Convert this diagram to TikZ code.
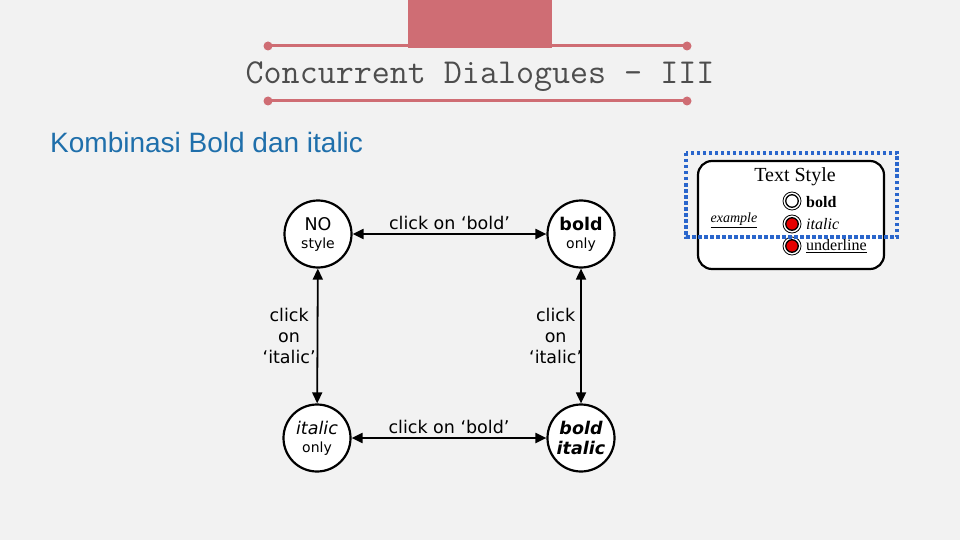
\documentclass[tikz,border=0pt]{standalone}
\usepackage{fontspec}
\usetikzlibrary{arrows.meta}
\newfontfamily\verd{DejaVu Sans}
\newfontfamily\arialf{Liberation Sans}
\newfontfamily\seriff{Liberation Serif}
\definecolor{bg}{HTML}{F2F2F2}
\definecolor{rose}{HTML}{CF6D74}
\definecolor{titlegray}{HTML}{4D4D4D}
\definecolor{headblue}{HTML}{1F6FAB}
\definecolor{dotblue}{HTML}{2A66CC}
\definecolor{radred}{HTML}{E60000}
\newcommand{\smlf}{\fontsize{14}{18}\selectfont}
\begin{document}
\begin{tikzpicture}[x=1pt,y=-1pt,
  state/.style={circle,draw=black,line width=2.2pt,fill=white,minimum size=67pt,inner sep=0pt,align=center,font=\verd\fontsize{17.5}{18}\selectfont},
  lbl/.style={font=\verd\fontsize{17.5}{21}\selectfont,align=center,inner sep=1pt},
  dbl/.style={line width=2pt,{Triangle[length=11pt,width=10pt]}-{Triangle[length=11pt,width=10pt]}},
  vdbl/.style={line width=1.8pt,{Triangle[length=11pt,width=10pt]}-{Triangle[length=11pt,width=10pt]}},
  divider/.style={rose,line width=3pt},
  enddot/.style={circle,fill=rose,minimum size=9pt,inner sep=0pt},
  radio/.style={circle,draw=black,line width=0.8pt,fill=white,minimum size=18pt,inner sep=0pt},
  radin/.style={circle,draw=black,line width=1.3pt,minimum size=12.5pt,inner sep=0pt},
  opt/.style={anchor=west,inner sep=0pt,font=\seriff\fontsize{16}{18}\selectfont},
]
\useasboundingbox (0,0) rectangle (960,540);
\fill[bg] (0,0) rectangle (960,540);

% header
\fill[rose] (408,0) rectangle (552,48);
\node[enddot] (d1) at (268,46) {};
\node[enddot] (d2) at (687,46) {};
\node[enddot] (d3) at (268,101) {};
\node[enddot] (d4) at (687,101) {};
\draw[divider] (d1.center) -- (d2.center);
\draw[divider] (d3.center) -- (d4.center);
\node[anchor=base,text=titlegray,font=\ttfamily\fontsize{35}{35}\selectfont,inner sep=0pt] (title) at (480,84) {Concurrent Dialogues - III};

\node[anchor=base west,text=headblue,font=\arialf\fontsize{28}{30}\selectfont,inner sep=0pt] (sub) at (50,153) {Kombinasi Bold dan italic};

% states
\node[state] (no) at (318,234) {NO\\{\smlf style}};
\node[state] (bo) at (581,234) {{\bfseries bold}\\{\smlf only}};
\node[state] (it) at (317,438) {{\itshape italic}\\{\smlf only}};
\node[state,font=\verd\bfseries\itshape\fontsize{17.5}{20}\selectfont] (bi) at (581,438) {bold\\italic};

\draw[dbl] (no) -- node[lbl,above=2pt] (l1) {click on ‘bold’} (bo);
\draw[dbl] (it) -- node[lbl,above=2pt] (l2) {click on ‘bold’} (bi);
\draw[vdbl] (no) -- node[lbl,left=0pt] (l3) {click\\on\\‘italic’} (it);
\draw[vdbl] (bo) -- node[lbl,left=-3pt] (l4) {click\\on\\‘italic’} (bi);

% Text Style widget
\node[draw=black,line width=2.2pt,rounded corners=14pt,fill=white,minimum width=186pt,minimum height=108pt] (ts) at (791,215) {};
\node[font=\seriff\fontsize{20}{22}\selectfont,inner sep=0pt] (tstitle) at (795,177) {Text Style};
\node[font=\seriff\itshape\fontsize{14}{16}\selectfont,inner sep=0pt] (ex) at (734,220) {\underline{example}};
\node[radio] (r1) at (792,201) {};
\node[radin,fill=white] (r1i) at (r1) {};
\node[radio] (r2) at (792,224) {};
\node[radin,fill=radred] (r2i) at (r2) {};
\node[radio] (r3) at (792,246) {};
\node[radin,fill=radred] (r3i) at (r3) {};
\node[opt,font=\seriff\bfseries\fontsize{16}{18}\selectfont] (o1) at (806,202) {bold};
\node[opt,font=\seriff\itshape\fontsize{16}{18}\selectfont] (o2) at (806,224) {italic};
\node[opt] (o3) at (806,246) {\underline{underline}};

\draw[dotblue,line width=3.5pt,dash pattern=on 3.5pt off 2.5pt] (686,153) rectangle (897,237);
\end{tikzpicture}
\end{document}
